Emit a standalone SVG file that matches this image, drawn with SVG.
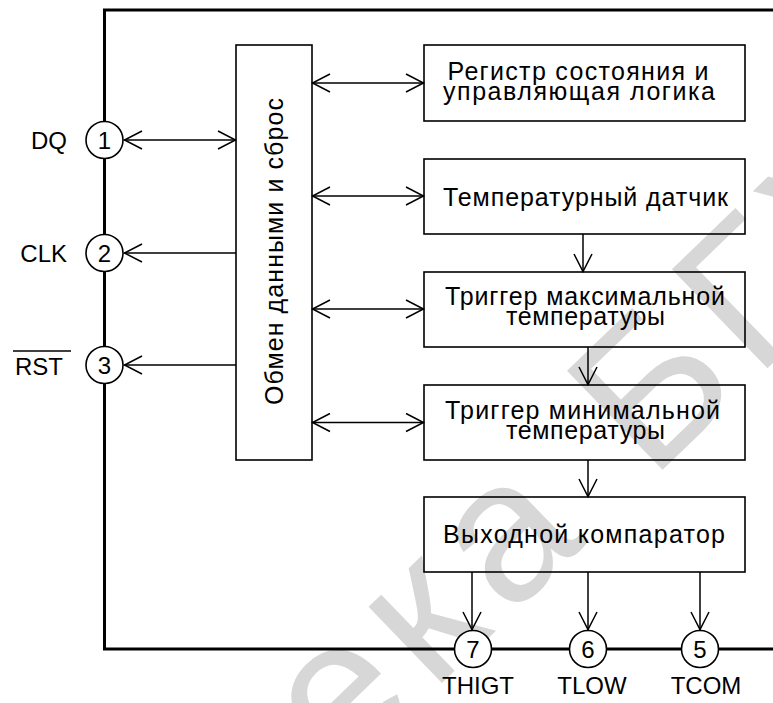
<svg xmlns="http://www.w3.org/2000/svg" width="773" height="703" viewBox="0 0 773 703">
<style>
.box{fill:none;stroke:#000;stroke-width:1.6}
.pin{fill:#fff;stroke:#000;stroke-width:1.6}
.ln{fill:none;stroke:#000;stroke-width:1.5}
.frame{fill:none;stroke:#000;stroke-width:3}
.t{font-family:"Liberation Sans",Arial,sans-serif;font-size:25px;fill:#000;text-anchor:middle}
.lbl{font-family:"Liberation Sans",Arial,sans-serif;font-size:24px;fill:#000}
.num{font-family:"Liberation Sans",Arial,sans-serif;font-size:24px;fill:#000;text-anchor:middle}
.wm{font-family:"Liberation Sans",Arial,sans-serif;font-size:200px;letter-spacing:15px;fill:#d7d7d7}
</style>
<defs>
<marker id="ah" markerUnits="userSpaceOnUse" markerWidth="20" markerHeight="20" refX="18.5" refY="10" orient="auto-start-reverse" overflow="visible">
<path d="M0.5,1 L18,10 L0.5,19" fill="none" stroke="#000" stroke-width="1.5"/>
</marker>
</defs>
<rect width="773" height="703" fill="#fff"/>
<text class="wm" transform="translate(513,542) rotate(-44)" y="52"><tspan x="70.6" text-anchor="end">Библиотека</tspan><tspan x="70.6" text-anchor="start"> БГУИР</tspan></text>

<g id="frame"><path class="frame" d="M773,10 H104.5 V649 H773"/></g>

<g id="connectors">
<line class="ln" x1="124" y1="140" x2="236" y2="140" marker-start="url(#ah)" marker-end="url(#ah)"/>
<line class="ln" x1="236" y1="253" x2="124" y2="253" marker-end="url(#ah)"/>
<line class="ln" x1="236" y1="365" x2="124" y2="365" marker-end="url(#ah)"/>
<line class="ln" x1="312" y1="83" x2="424" y2="83" marker-start="url(#ah)" marker-end="url(#ah)"/>
<line class="ln" x1="312" y1="196" x2="424" y2="196" marker-start="url(#ah)" marker-end="url(#ah)"/>
<line class="ln" x1="312" y1="309" x2="424" y2="309" marker-start="url(#ah)" marker-end="url(#ah)"/>
<line class="ln" x1="312" y1="422.5" x2="424" y2="422.5" marker-start="url(#ah)" marker-end="url(#ah)"/>
<line class="ln" x1="583" y1="234" x2="583" y2="272" marker-end="url(#ah)"/>
<line class="ln" x1="588" y1="347" x2="588" y2="385" marker-end="url(#ah)"/>
<line class="ln" x1="588" y1="460" x2="588" y2="497" marker-end="url(#ah)"/>
<line class="ln" x1="472" y1="572" x2="472" y2="630" marker-end="url(#ah)"/>
<line class="ln" x1="588" y1="572" x2="588" y2="630" marker-end="url(#ah)"/>
<line class="ln" x1="700" y1="572" x2="700" y2="630" marker-end="url(#ah)"/>
</g>

<g id="exchange">
<rect class="box" x="236" y="45" width="76" height="415"/>
<text class="t" transform="translate(283,251.5) rotate(-90)" textLength="307">Обмен данными и сброс</text>
</g>
<g id="status">
<rect class="box" x="424" y="45" width="321" height="76"/>
<text class="t" x="578" y="80" textLength="261">Регистр состояния и</text>
<text class="t" x="579" y="100" textLength="272">управляющая логика</text>
</g>
<g id="sensor">
<rect class="box" x="424" y="159" width="321" height="75"/>
<text class="t" x="585.5" y="206" textLength="285">Температурный датчик</text>
</g>
<g id="tmax">
<rect class="box" x="424" y="272" width="321" height="75"/>
<text class="t" x="585" y="305" textLength="280">Триггер максимальной</text>
<text class="t" x="585.5" y="325" textLength="159">температуры</text>
</g>
<g id="tmin">
<rect class="box" x="424" y="385" width="321" height="75"/>
<text class="t" x="582.5" y="419" textLength="275">Триггер минимальной</text>
<text class="t" x="585.5" y="439" textLength="159">температуры</text>
</g>
<g id="comparator">
<rect class="box" x="424" y="497" width="321" height="75"/>
<text class="t" x="584" y="543" textLength="282">Выходной компаратор</text>
</g>

<g id="pin1">
<circle class="pin" cx="104.5" cy="140" r="18.5"/>
<text class="num" x="104.5" y="148.5">1</text>
<text class="lbl" x="67" y="149" text-anchor="end">DQ</text>
</g>
<g id="pin2">
<circle class="pin" cx="104.5" cy="253" r="18.5"/>
<text class="num" x="104.5" y="261.5">2</text>
<text class="lbl" x="67" y="262" text-anchor="end">CLK</text>
</g>
<g id="pin3">
<circle class="pin" cx="104.5" cy="365" r="18.5"/>
<text class="num" x="104.5" y="373.5">3</text>
<text class="lbl" x="63" y="375" text-anchor="end">RST</text>
<line x1="13" y1="351" x2="71" y2="351" stroke="#000" stroke-width="1.5"/>
</g>
<g id="pin7">
<circle class="pin" cx="473" cy="649" r="18.5"/>
<text class="num" x="473" y="657.5">7</text>
<text class="num" x="478" y="694">THIGT</text>
</g>
<g id="pin6">
<circle class="pin" cx="588" cy="649" r="18.5"/>
<text class="num" x="588" y="657.5">6</text>
<text class="num" x="592" y="694">TLOW</text>
</g>
<g id="pin5">
<circle class="pin" cx="700" cy="649" r="18.5"/>
<text class="num" x="700" y="657.5">5</text>
<text class="num" x="706" y="694">TCOM</text>
</g>
</svg>
